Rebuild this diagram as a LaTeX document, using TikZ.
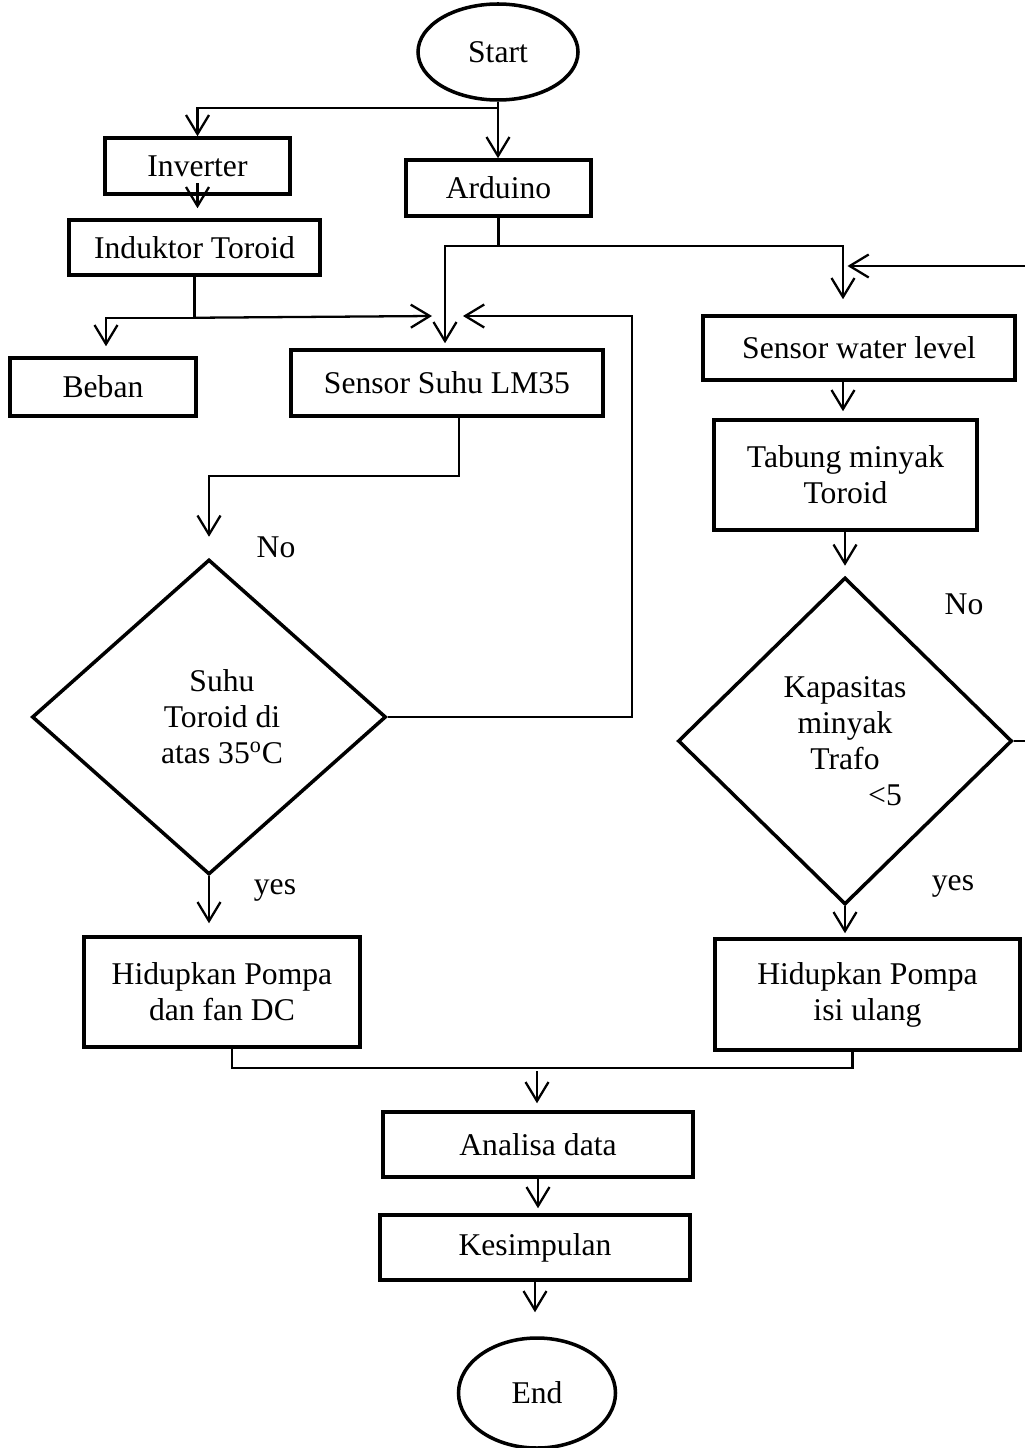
\documentclass[tikz,border=0pt]{standalone}
\usepackage{fontspec}
\setmainfont{Liberation Serif}
\usetikzlibrary{shapes.geometric,arrows.meta}

\begin{document}
\begin{tikzpicture}[
  every node/.style={font=\fontsize{18}{20.5}\selectfont},
  kotak/.style={draw,line width=2pt,align=center,inner sep=0pt},
  belah/.style={draw,diamond,line width=2pt,align=center,inner sep=0pt},
  oval/.style={draw,ellipse,line width=2pt,inner sep=0pt},
  garis/.style={line width=1.3pt},
  panah/.style={garis,-{Straight Barb[length=3.8mm,width=4.6mm]}}]
\useasboundingbox (0,0) rectangle (20.48,-28.96);

\node[oval,minimum width=3.2cm,minimum height=1.92cm] (mulai) at (9.96,-1.04) {Start};
\node[kotak,minimum width=3.7cm,minimum height=1.12cm] (inverter) at (3.95,-3.32) {Inverter};
\node[kotak,minimum width=3.7cm,minimum height=1.12cm] (arduino) at (9.97,-3.76) {Arduino};
\node[kotak,minimum width=5.02cm,minimum height=1.1cm] (induktor) at (3.89,-4.95) {Induktor Toroid};
\node[kotak,minimum width=3.72cm,minimum height=1.16cm] (beban) at (2.06,-7.74) {Beban};
\node[kotak,minimum width=6.24cm,minimum height=1.32cm] (lm35) at (8.94,-7.66) {Sensor Suhu LM35};
\node[kotak,minimum width=6.24cm,minimum height=1.28cm] (level) at (17.18,-6.96) {Sensor water level};
\node[kotak,minimum width=5.26cm,minimum height=2.2cm] (tabung) at (16.91,-9.5) {Tabung minyak\\Toroid};
\node[belah,minimum width=7.08cm,minimum height=6.3cm] (suhu) at (4.18,-14.34) {\hspace*{0.52cm}Suhu\\\hspace*{0.52cm}Toroid di\\\hspace*{0.52cm}atas 35\textsuperscript{o}C};
\node[belah,minimum width=6.68cm,minimum height=6.54cm] (kapasitas) at (16.9,-14.82) {Kapasitas\\minyak\\Trafo\\\hspace*{1.6cm}<5};
\node[kotak,minimum width=5.52cm,minimum height=2.2cm] (pompa1) at (4.44,-19.84) {Hidupkan Pompa\\dan fan DC};
\node[kotak,minimum width=6.1cm,minimum height=2.22cm] (pompa2) at (17.35,-19.89) {Hidupkan Pompa\\isi ulang};
\node[kotak,minimum width=6.2cm,minimum height=1.3cm] (analisa) at (10.76,-22.89) {Analisa data};
\node[kotak,minimum width=6.2cm,minimum height=1.3cm] (simpul) at (10.7,-24.95) {Kesimpulan};
\node[oval,minimum width=3.14cm,minimum height=2.2cm] (selesai) at (10.74,-27.86) {End};

\node (no1) at (5.52,-10.94) {No};
\node (yes1) at (5.5,-17.8) {yes};
\node (no2) at (19.28,-12.08) {No};
\node (yes2) at (19.06,-17.72) {yes};

\coordinate (ujung1) at (8.64,-6.32);
\coordinate (ujung2) at (9.26,-6.32);
\coordinate (belok1) at (12.64,-6.32);
\coordinate (ujung3) at (16.95,-5.32);
\coordinate (kanan) at (20.9,-5.32);
\coordinate (gabung) at (10.74,-21.42);

\draw[panah] (mulai.south) -- (mulai.south |- arduino.north);
\draw[panah] (mulai.south) -- ++(0,-0.12) -| (inverter.north);
\draw[panah] ([yshift=0.25cm]inverter.south) -- ([yshift=0.2cm]inverter.south |- induktor.north);
\draw[garis] (arduino.south) -- ++(0,-0.56) coordinate (cabang);
\draw[panah,shorten >=0.1cm] (cabang) -| ([xshift=-0.04cm]lm35.north);
\draw[panah,shorten >=0.3cm] (cabang) -| ([xshift=-0.32cm]level.north);
\draw[garis] (induktor.south) -- ++(0,-0.82) coordinate (cabang2);
\draw[panah,shorten >=0.2cm] (cabang2) -| ([xshift=0.06cm]beban.north);
\draw[panah] (cabang2) -- (ujung1);
\draw[panah] (suhu.east) -| (belok1) -- (ujung2);
\draw[panah,shorten >=0.42cm] ([xshift=0.24cm]lm35.south) -- ++(0,-1.16) -| (suhu.north);
\draw[panah,shorten >=0.24cm] (suhu.south) -- (suhu.south |- pompa1.north);
\draw[panah,shorten >=0.14cm] ([xshift=-0.32cm]level.south) -- ([xshift=-0.32cm]level.south |- tabung.north);
\draw[panah,shorten >=0.2cm] (tabung.south -| kapasitas.north) -- (kapasitas.north);
\draw[panah] (kapasitas.east) -| (kanan) -- (ujung3);
\draw[panah,shorten >=0.08cm] (kapasitas.south) -- (kapasitas.south |- pompa2.north);
\draw[garis] ([xshift=0.2cm]pompa1.south) -- ++(0,-0.38) -| ([xshift=-0.3cm]pompa2.south);
\draw[panah,shorten >=0.14cm] (gabung) -- (gabung |- analisa.north);
\draw[panah,shorten >=0.1cm] (analisa.south) -- (analisa.south |- simpul.north);
\draw[panah,shorten >=0.48cm] (simpul.south) -- (simpul.south |- selesai.north);
\end{tikzpicture}
\end{document}
